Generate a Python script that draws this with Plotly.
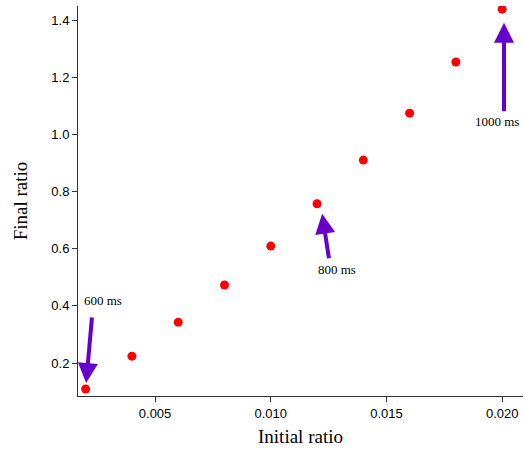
import plotly.graph_objects as go

initial_ratio = [0.002, 0.004, 0.006, 0.008, 0.010, 0.012, 0.014, 0.016, 0.018, 0.020]
final_ratio = [0.109, 0.224, 0.343, 0.473, 0.609, 0.757, 0.910, 1.074, 1.253, 1.438]

labels = ["600 ms", "800 ms", "1000 ms"]
label_x = [0.00275, 0.01285, 0.01977]
label_y = [0.417, 0.526, 1.044]
tip_x = [0.00202, 0.01222, 0.02008]
tip_y = [0.130, 0.722, 1.390]
tail_dx = [6, 7, 0]
tail_dy = [-67, 46, 90]

fig = go.Figure()
fig.add_trace(go.Scatter(x=initial_ratio, y=final_ratio, mode="markers",
                         marker=dict(color="#FF0000", size=9), showlegend=False))

arrow_color = "#6600CC"
for tx, ty, dx, dy in zip(tip_x, tip_y, tail_dx, tail_dy):
    fig.add_annotation(x=tx, y=ty, ax=dx, ay=dy, text="", showarrow=True,
                       arrowhead=2, arrowsize=1, arrowwidth=4, arrowcolor=arrow_color)
for lab, lx, ly in zip(labels, label_x, label_y):
    fig.add_annotation(x=lx, y=ly, text=lab, showarrow=False,
                       font=dict(family="Liberation Serif, Times New Roman, serif", size=13, color="black"))

axis_common = dict(showline=True, linecolor="#333333", linewidth=1, ticks="outside",
                   ticklen=5, tickcolor="#333333", showgrid=False, zeroline=False,
                   tickfont=dict(family="Arial, Liberation Sans, sans-serif", size=13, color="black"),
                   mirror=False)
title_font = dict(family="Liberation Serif, Times New Roman, serif", size=19, color="black")
fig.update_xaxes(range=[0.00167, 0.0209], tickvals=[0.005, 0.010, 0.015, 0.020],
                 ticktext=["0.005", "0.010", "0.015", "0.020"],
                 title=dict(text="Initial ratio", font=title_font, standoff=10),
                 **axis_common)
fig.update_yaxes(range=[0.0846, 1.449], tickvals=[0.2, 0.4, 0.6, 0.8, 1.0, 1.2, 1.4],
                 ticktext=["0.2", "0.4", "0.6", "0.8", "1.0", "1.2", "1.4"],
                 title=dict(text="Final ratio", font=title_font, standoff=18),
                 **axis_common)
fig.update_layout(width=524, height=451, margin=dict(l=78, r=1, t=6, b=55),
                  plot_bgcolor="white", paper_bgcolor="white")
fig.write_html("out.html", config={"displayModeBar": False},
               post_script="document.body.style.margin='0';document.body.style.padding='0';")
